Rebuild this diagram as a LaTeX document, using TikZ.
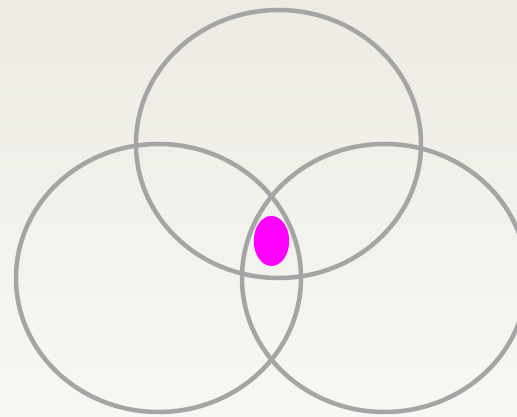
\documentclass[tikz,border=0pt]{standalone}
\begin{document}
\begin{tikzpicture}[x=1pt,y=1pt,
  ring/.style={draw=ringgray,line width=4.5pt},
  dot/.style={fill=magenta!100,draw=none}]
\definecolor{ringgray}{HTML}{A5A5A5}
\definecolor{bgtop}{HTML}{EDEBE3}
\definecolor{bgbot}{HTML}{F8F7F3}
\definecolor{magenta}{HTML}{FF00FF}
\useasboundingbox (0,0) rectangle (517,417);
\shade[top color=bgtop,bottom color=bgbot] (0,0) rectangle (517,417);
\begin{scope}
\clip (0,0) rectangle (517,417);
\draw[ring] (278.5,273) ellipse [x radius=142.5, y radius=134];
\draw[ring] (158.5,139) ellipse [x radius=142.5, y radius=134];
\draw[ring] (384.5,139) ellipse [x radius=142.5, y radius=134];
\end{scope}
\fill[dot] (271.5,176) ellipse [x radius=17.7, y radius=25];
\end{tikzpicture}
\end{document}
